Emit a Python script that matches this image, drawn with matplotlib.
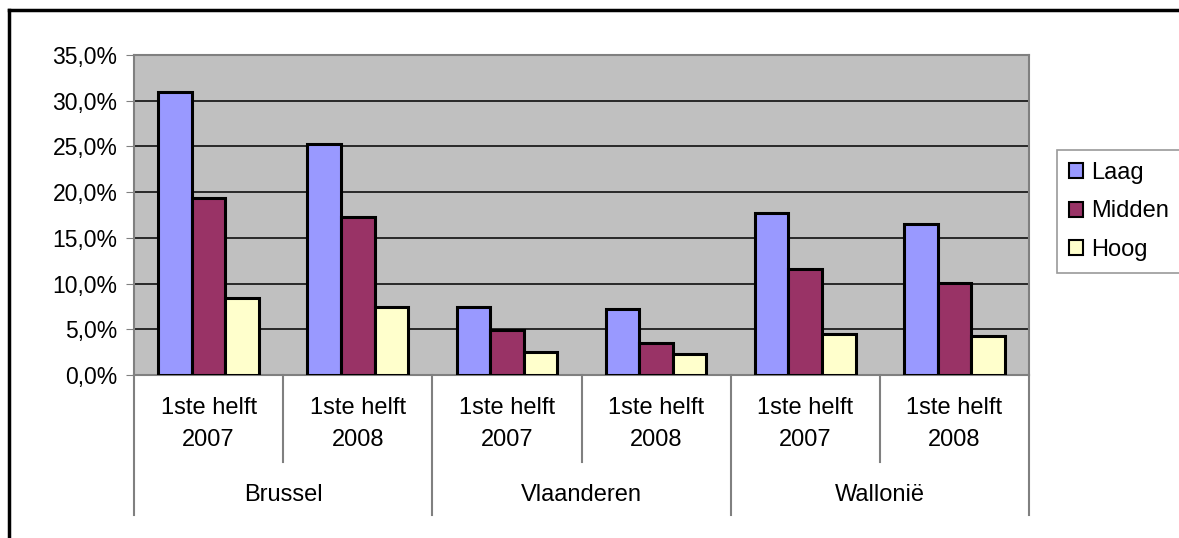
import matplotlib.pyplot as plt
import matplotlib.lines as mlines
from matplotlib.ticker import FuncFormatter
import numpy as np

plt.rcParams['font.family'] = ['Liberation Sans', 'DejaVu Sans']

periods = ['1ste helft\n2007', '1ste helft\n2008'] * 3
regions = ['Brussel', 'Vlaanderen', 'Wallonië']
series = ['Laag', 'Midden', 'Hoog']
laag = [31.0, 25.3, 7.4, 7.2, 17.75, 16.5]
midden = [19.4, 17.3, 4.9, 3.5, 11.6, 10.1]
hoog = [8.4, 7.4, 2.5, 2.3, 4.5, 4.3]
colors = ['#9999FF', '#993366', '#FFFFCC']

fig = plt.figure(figsize=(11.79, 5.38), dpi=100)
ax = fig.add_axes([134 / 1179, 1 - 375 / 538, (1029 - 134) / 1179, 320 / 538])
ax.set_facecolor('#C0C0C0')

x = np.arange(len(periods))
w = 0.225
for i, (name, vals) in enumerate(zip(series, [laag, midden, hoog])):
    ax.bar(x + (i - 1) * w, vals, w, color=colors[i], edgecolor='black',
           linewidth=2.2, label=name, zorder=3)

ax.set_xlim(-0.5, len(periods) - 0.5)
ax.set_ylim(0, 35)
ax.set_yticks(np.arange(0, 36, 5))
ax.yaxis.set_major_formatter(FuncFormatter(lambda v, p: f'{v:.1f}%'.replace('.', ',')))
ax.yaxis.grid(True, color='black', linewidth=1.1, zorder=1)
ax.tick_params(axis='y', labelsize=16.5, length=6, color='#808080', pad=6)
ax.set_xticks([])
for s in ax.spines.values():
    s.set_color('#808080')
    s.set_linewidth(1.5)

trans = ax.get_xaxis_transform()
# separators below the axis
for b in np.arange(-0.5, len(periods), 1):
    depth = -0.4375 if (b + 0.5) % 2 == 0 else -0.272
    ax.plot([b, b], [0, depth], color='#808080', lw=1.5, transform=trans, clip_on=False)
for xi, lab in zip(x, periods):
    top, bot = lab.split('\n')
    ax.text(xi, -0.103, top, transform=trans, ha='center', va='center', fontsize=17)
    ax.text(xi, -0.203, bot, transform=trans, ha='center', va='center', fontsize=17)
for j, reg in enumerate(regions):
    ax.text(2 * j + 0.5, -0.375, reg, transform=trans, ha='center', va='center', fontsize=17)

leg = fig.legend(loc='upper left', bbox_to_anchor=(1057 / 1179, 1 - 150 / 538),
                 fontsize=17, frameon=True, fancybox=False, handlelength=0.6,
                 handleheight=0.6, handletextpad=0.35, labelspacing=0.7,
                 borderpad=0.5, borderaxespad=0)
leg.get_frame().set_edgecolor('#808080')
leg.get_frame().set_linewidth(1.2)
for h in leg.legend_handles:
    h.set_linewidth(1.5)

# outer chart border (left and top only visible)
fig.add_artist(mlines.Line2D([9 / 1179, 9 / 1179], [0, 1 - 10 / 538], color='black', lw=2.5))
fig.add_artist(mlines.Line2D([9 / 1179, 1], [1 - 10 / 538, 1 - 10 / 538], color='black', lw=2.5))

fig.savefig('out.png', dpi=100)
